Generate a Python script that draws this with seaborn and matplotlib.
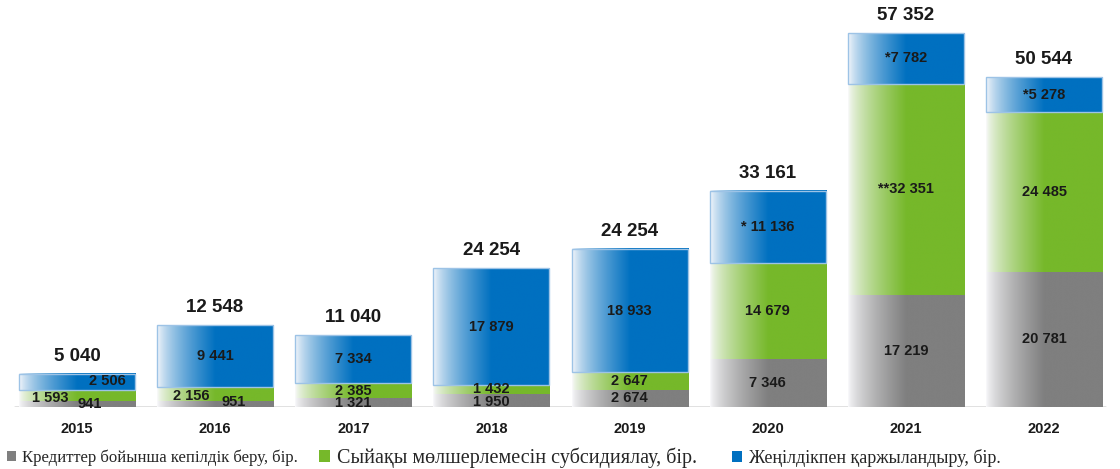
import matplotlib
matplotlib.use('Agg')
import matplotlib.pyplot as plt
from matplotlib.colors import to_rgb
from matplotlib.patches import Patch
import numpy as np
import pandas as pd
import seaborn as sns

years = ['2015', '2016', '2017', '2018', '2019', '2020', '2021', '2022']
guarantee = [941, 951, 1321, 1950, 2674, 7346, 17219, 20781]
subsidy = [1593, 2156, 2385, 1432, 2647, 14679, 32351, 24485]
financing = [2506, 9441, 7334, 17879, 18933, 11136, 7782, 5278]
# totals as printed on the source chart (2018 is printed as 24 254)
totals = [5040, 12548, 11040, 24254, 24254, 33161, 57352, 50544]
subsidy_prefix = ['', '', '', '', '', '', '**', '']
financing_prefix = ['', '', '', '', '', '* ', '*', '*']

legend_labels = ['Кредиттер бойынша кепілдік беру, бір.',
                 'Сыйақы мөлшерлемесін субсидиялау, бір.',
                 'Жеңілдікпен қаржыландыру, бір.']

sns.set_style('white')
plt.rcParams['font.family'] = ['Liberation Sans', 'DejaVu Sans']

df = pd.DataFrame({'year': years, 'guarantee': guarantee,
                   'subsidy': subsidy, 'financing': financing})

fig = plt.figure(figsize=(11.2, 4.69), dpi=100)
ax = fig.add_axes([0, 62 / 469, 1, 407 / 469])

layers = [('guarantee', '#7f7f7f'), ('subsidy', '#76b82a'),
          ('financing', '#0070c0')]
prefixes = [[''] * 8, subsidy_prefix, financing_prefix]

bottom = np.zeros(len(years))
for col, color in layers:
    sns.barplot(data=df, x='year', y=col, bottom=bottom, color=color,
                width=0.84, saturation=1, errorbar=None, ax=ax)
    bottom = bottom + df[col].values


def gradient(color):
    t = np.linspace(0, 1, 256)
    f = np.clip(t / 0.5, 0, 1) ** 0.7
    c = np.array(to_rgb(color))
    start = np.array([0.98, 0.98, 0.99])
    rgb = start[None, :] * (1 - f[:, None]) + c[None, :] * f[:, None]
    return rgb[None, :, :]


patches = list(ax.patches)
n = len(years)
for i, patch in enumerate(patches):
    col, color = layers[i // n]
    x0, y0 = patch.get_x(), patch.get_y()
    w, h = patch.get_width(), patch.get_height()
    ax.imshow(gradient(color), extent=[x0, x0 + w, y0, y0 + h],
              aspect='auto', interpolation='bilinear', zorder=2)
    patch.set_facecolor('none')
    patch.set_zorder(3)
    if col == 'financing':
        patch.set_edgecolor('#9dc3e6')
        patch.set_linewidth(1)
    else:
        patch.set_linewidth(0)

# label shifts (pixels) for the crowded small segments
shifts = {(0, 0): (13, 0), (1, 0): (-27, -2), (2, 0): (30, 1),
          (0, 1): (19, 2), (1, 1): (-24, -2),
          (0, 3): (0, -1), (1, 3): (0, 1)}

for i, patch in enumerate(patches):
    layer, idx = i // n, i % n
    col = layers[layer][0]
    value = df[col].iloc[idx]
    text = prefixes[layer][idx] + f'{value:,}'.replace(',', ' ')
    xc = patch.get_x() + patch.get_width() / 2
    yc = patch.get_y() + patch.get_height() / 2
    dx, dy = shifts.get((layer, idx), (0, 0))
    ax.annotate(text, (xc, yc), xytext=(dx, dy), textcoords='offset pixels',
                ha='center', va='center', fontsize=10.5, fontweight='bold',
                color='#1a1a1a', zorder=5)

for idx in range(n):
    top_patch = patches[2 * n + idx]
    xc = top_patch.get_x() + top_patch.get_width() / 2
    yt = top_patch.get_y() + top_patch.get_height()
    ax.annotate(f'{totals[idx]:,}'.replace(',', ' '), (xc, yt), xytext=(0, 9),
                textcoords='offset pixels', ha='center', va='bottom',
                fontsize=13.5, fontweight='bold', color='#1a1a1a',
                annotation_clip=False)

ax.axhline(0, xmin=0.013, xmax=0.987, color='#dedede', lw=2, zorder=1)

ax.set_xlim(-0.557, 7.55)
ax.set_ylim(0, 62430)
ax.set_xlabel('')
ax.set_ylabel('')
ax.set_yticks([])
ax.tick_params(axis='x', length=0, pad=11)
for lab in ax.get_xticklabels():
    lab.set_fontweight('bold')
    lab.set_fontsize(10.5)
    lab.set_color('#1a1a1a')
sns.despine(ax=ax, left=True, bottom=True)
ax.patch.set_alpha(0)

legend_colors = ['#7f7f7f', '#76b82a', '#0070c0']
legend_x = [0.006, 0.285, 0.654]
legend_sizes = [12, 14.5, 13]
for label, color, lx, fs in zip(legend_labels, legend_colors, legend_x, legend_sizes):
    fig.legend(handles=[Patch(facecolor=color, edgecolor='none', label=label)],
               loc='center left', bbox_to_anchor=(lx, 0.024), frameon=False,
               handlelength=0.55, handleheight=0.55, handletextpad=0.35,
               borderpad=0, borderaxespad=0,
               prop={'family': 'Liberation Serif', 'size': fs})

fig.savefig('out.png', dpi=100)
